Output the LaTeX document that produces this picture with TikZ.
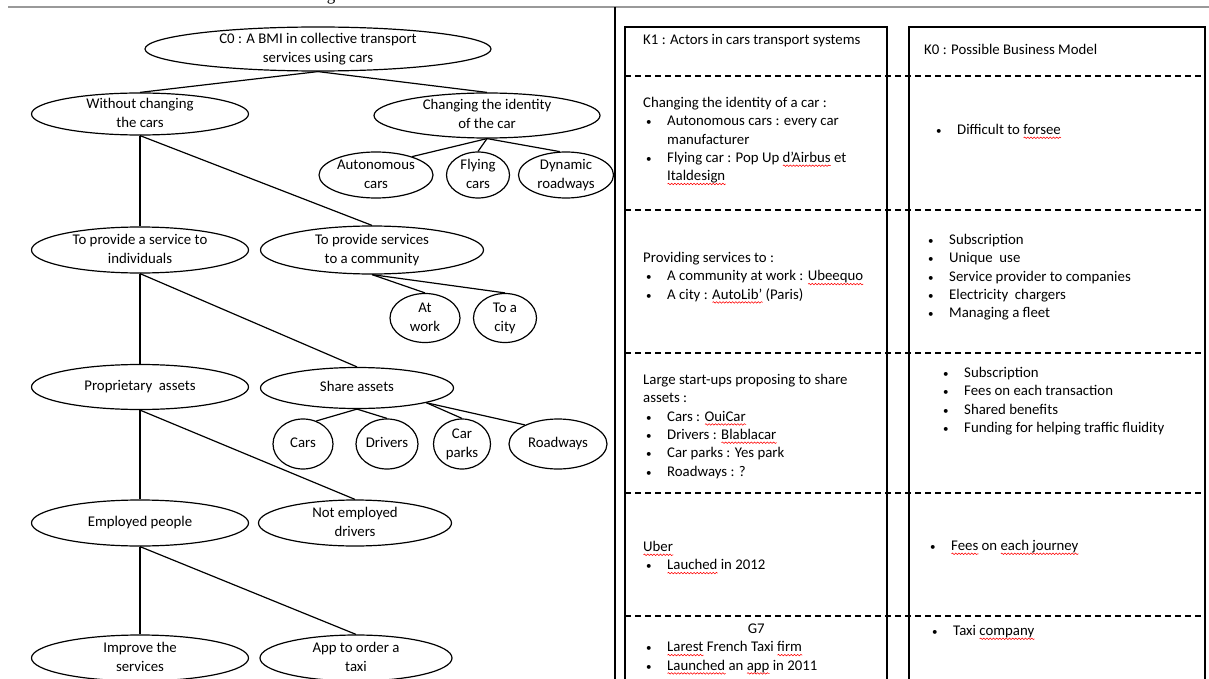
\documentclass[tikz,border=0pt]{standalone}
\usepackage{fontspec}
\setmainfont{Carlito}
\newfontfamily\serifg{Liberation Serif}
\usetikzlibrary{shapes.geometric,decorations.pathmorphing}
\newdimen\wavyw
\newsavebox\wavybox
\newcommand\wavy[1]{\sbox\wavybox{#1}\wavyw=\wd\wavybox\rlap{\tikz[baseline=0pt]{\draw[red,line width=0.55pt,decorate,decoration={snake,amplitude=0.75pt,segment length=3.2pt}] (0pt,-3.3pt) -- (\the\wavyw,-3.3pt);}}\usebox\wavybox}
\newcommand\etext[1]{\makebox[0pt]{\raisebox{-3.7pt}[0pt][0pt]{\begin{tabular}{@{}c@{}}#1\end{tabular}}}}
\newcommand\tbul{\makebox[24pt][l]{\hspace{3pt}{\fontsize{11}{11}\selectfont •}}}
\newcommand\tind{\hspace{24pt}}
\newcommand\tcell[1]{\begin{tabular}[t]{@{}l@{}}#1\end{tabular}}
\tikzset{
  ell/.style={ellipse, draw, line width=1.2pt, inner sep=0pt, font=\fontsize{14.8}{18.8}\selectfont},
  conn/.style={line width=1.2pt},
  cellt/.style={anchor=base west, inner sep=0pt, font=\fontsize{14.8}{18.3}\selectfont},
  boxline/.style={line width=1.4pt},
  sepline/.style={line width=1.3pt, dash pattern=on 6pt off 4pt},
}
\begin{document}
\begin{tikzpicture}[x=1pt,y=-1pt]
\useasboundingbox (0,0) rectangle (1209,679);
% page frame fragments
\node[font=\serifg\fontsize{17}{17}\selectfont, anchor=base, inner sep=0pt] (gfrag) at (331,0.5) {g};
\draw[line width=1.5pt, black!40] (8,7) -- (1209,7);
\draw[line width=1.3pt] (615,7) -- (615,685);

% tree
\node[ell, minimum width=346pt, minimum height=44pt] (c0) at (318,49) {\etext{C0 : A BMI in collective transport\\services using cars}};
\node[ell, minimum width=217pt, minimum height=42pt] (without) at (140,114) {\etext{Without changing\\the cars}};
\node[ell, minimum width=226pt, minimum height=45pt] (changing) at (487,115.5) {\etext{Changing the identity\\of the car}};
\node[ell, minimum width=114pt, minimum height=46pt] (auton) at (376,175) {\etext{Autonomous\\cars}};
\node[ell, minimum width=63pt, minimum height=46pt] (flying) at (478,175) {\etext{Flying\\cars}};
\node[ell, minimum width=95pt, minimum height=46pt] (dynamic) at (566,175) {\etext{Dynamic\\roadways}};
\node[ell, minimum width=217pt, minimum height=46pt] (indiv) at (140,250) {\etext{To provide a service to\\individuals}};
\node[ell, minimum width=223pt, minimum height=48pt] (community) at (372,250) {\etext{To provide services\\to a community}};
\node[ell, minimum width=70pt, minimum height=49pt] (atwork) at (425,318) {\etext{At\\work}};
\node[ell, minimum width=63pt, minimum height=49pt] (city) at (505,318) {\etext{To a\\city}};
\node[ell, minimum width=217pt, minimum height=45pt] (propr) at (140,387) {\etext{Proprietary~ assets}};
\node[ell, minimum width=193pt, minimum height=41pt] (share) at (357,388) {\etext{Share assets}};
\node[ell, minimum width=60pt, minimum height=50pt] (cars) at (303,444) {\etext{Cars}};
\node[ell, minimum width=62pt, minimum height=50pt] (drivers) at (387,444) {\etext{Drivers}};
\node[ell, minimum width=57pt, minimum height=50pt] (carparks) at (462,444) {\etext{Car\\parks}};
\node[ell, minimum width=98pt, minimum height=50pt] (roadways) at (558,444) {\etext{Roadways}};
\node[ell, minimum width=217pt, minimum height=46pt] (employed) at (140,523) {\etext{Employed people}};
\node[ell, minimum width=193pt, minimum height=46pt] (notemp) at (355,523) {\etext{Not employed\\drivers}};
\node[ell, minimum width=217pt, minimum height=46pt] (improve) at (140,658) {\etext{Improve the\\services}};
\node[ell, minimum width=192pt, minimum height=46pt] (app) at (356,658) {\etext{App to order a\\taxi}};

\draw[conn] (c0.south) -- (without.north);
\draw[conn] (c0.south) -- (changing.north);
\draw[conn] (changing.south) -- (auton.27);
\draw[conn] (changing.south) -- (flying.north);
\draw[conn] (changing.south) -- (dynamic.105);
\draw[conn] (without.south) -- (indiv.north);
\draw[conn] (without.south) -- (community.north);
\draw[conn] (community.south) -- (atwork.north);
\draw[conn] (community.south) -- (city.north);
\draw[conn] (indiv.south) -- (propr.north);
\draw[conn] (indiv.south) -- (share.north);
\draw[conn] (share.south) -- (cars.60);
\draw[conn] (share.south) -- (drivers.north);
\draw[conn] (share.-12) -- (carparks.north);
\draw[conn] (share.-12) -- (roadways.150);
\draw[conn] (propr.south) -- (employed.north);
\draw[conn] (propr.south) -- (notemp.north);
\draw[conn] (employed.south) -- (improve.north);
\draw[conn] (employed.south) -- (app.north);

% table frames
\draw[boxline] (625,685) -- (625,27) -- (887,27) -- (887,685);
\draw[boxline] (909,685) -- (909,27) -- (1205,27) -- (1205,685);
\foreach \yy in {76,210,353,493,616} \draw[sepline] (625,\yy) -- (1205,\yy);

% table texts
\node[cellt] (k1) at (643,44.5) {\tcell{K1 : Actors in cars transport systems}};
\node[cellt] (k0) at (924,54.5) {\tcell{K0 : Possible Business Model}};
\node[cellt] (l1) at (643,107.5) {\tcell{Changing the identity of a car :\\
\tbul Autonomous cars : every car\\
\tind manufacturer\\
\tbul Flying car : Pop Up \wavy{d’Airbus} et\\
\tind\wavy{Italdesign}}};
\node[cellt] (r1) at (933,134.5) {\tcell{\tbul Difficult to \wavy{forsee}}};
\node[cellt] (l2) at (643,262.5) {\tcell{Providing services to :\\
\tbul A community at work : \wavy{Ubeequo}\\
\tbul A city : \wavy{AutoLib’} (Paris)}};
\node[cellt] (r2) at (925,244.5) {\tcell{\tbul Subscription\\
\tbul Unique~ use\\
\tbul Service provider to companies\\
\tbul Electricity~ chargers\\
\tbul Managing a fleet}};
\node[cellt] (l3) at (643,384.5) {\tcell{Large start-ups proposing to share\\
assets :\\
\tbul Cars : \wavy{OuiCar}\\
\tbul Drivers : \wavy{Blablacar}\\
\tbul Car parks : Yes park\\
\tbul Roadways : ?}};
\node[cellt] (r3) at (940,377.5) {\tcell{\tbul Subscription\\
\tbul Fees on each transaction\\
\tbul Shared benefits\\
\tbul Funding for helping traffic fluidity}};
\node[cellt] (l4) at (643,551.5) {\tcell{\wavy{Uber}\\
\tbul \wavy{Lauched} in 2012}};
\node[cellt] (r4) at (927,550.5) {\tcell{\tbul \wavy{Fees} on \wavy{each journey}}};
\node[cellt] (l5) at (643,633.5) {\tcell{\makebox[226pt]{G7}\\
\tbul \wavy{Larest} French Taxi \wavy{firm}\\
\tbul \wavy{Launched} an \wavy{app} in 2011}};
\node[cellt] (r5) at (929,635.5) {\tcell{\tbul Taxi \wavy{company}}};
\end{tikzpicture}
\end{document}
